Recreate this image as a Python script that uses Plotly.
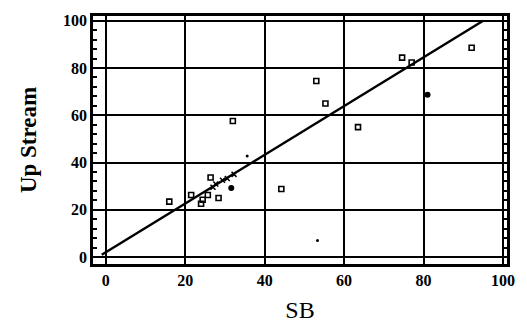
import plotly.graph_objects as go

# open square points (SB, Up Stream)
sq_x = [16, 21.5, 24.0, 24.4, 25.7, 26.4, 28.4, 32, 44.2, 53, 55.3, 63.5, 74.6, 77, 92.1]
sq_y = [23.5, 26.3, 22.6, 24.3, 26.3, 33.7, 25.0, 57.6, 28.8, 74.5, 65, 55, 84.4, 82.3, 88.6]
# filled points
fill_x = [31.6, 81]
fill_y = [29.2, 68.7]
# tiny dots
dot_x = [53.3, 35.6]
dot_y = [7, 42.8]
# small crosses along the line
cr_x = [27.0, 27.7, 29.4, 30.6, 32.3]
cr_y = [29.6, 30.9, 32.5, 33.3, 35.0]
# fitted line endpoints
line_x = [-1, 95]
line_y = [1, 100]

ticks = [0, 20, 40, 60, 80, 100]
tick_labels = ["<b>%d</b>" % t for t in ticks]
minor_ticks = [4, 8, 12, 16, 24, 28, 32, 36, 44, 48, 52, 56, 64, 68, 72, 76, 84, 88, 92, 96]

fig = go.Figure()
fig.add_trace(go.Scatter(x=line_x, y=line_y, mode="lines",
                         line=dict(color="black", width=2.5), showlegend=False))
fig.add_trace(go.Scatter(x=sq_x, y=sq_y, mode="markers",
                         marker=dict(symbol="square-open", size=5, color="black",
                                     line=dict(width=1.6, color="black")),
                         showlegend=False))
fig.add_trace(go.Scatter(x=fill_x, y=fill_y, mode="markers",
                         marker=dict(symbol="circle", size=6, color="black"),
                         showlegend=False))
fig.add_trace(go.Scatter(x=dot_x, y=dot_y, mode="markers",
                         marker=dict(symbol="circle", size=3, color="black"),
                         showlegend=False))
fig.add_trace(go.Scatter(x=cr_x, y=cr_y, mode="markers",
                         marker=dict(symbol="x-thin", size=5, color="black",
                                     line=dict(width=1.5, color="black")),
                         showlegend=False))

serif = "Liberation Serif"
fig.update_layout(
    width=527, height=336,
    margin=dict(l=93, r=12, t=12, b=72),
    paper_bgcolor="white", plot_bgcolor="white",
    font=dict(family=serif, color="black"),
    xaxis=dict(range=[-3.2, 101], tickvals=ticks, ticktext=tick_labels,
               showgrid=True, gridcolor="black", gridwidth=2, zeroline=False,
               showline=True, linecolor="black", linewidth=2.5, mirror=True,
               ticks="", tickfont=dict(family=serif, size=16, color="black"),
               title=dict(text="SB", font=dict(family=serif, size=24, color="black"),
                          standoff=14)),
    yaxis=dict(range=[-2.9, 102], tickvals=ticks, ticktext=tick_labels,
               showgrid=True, gridcolor="black", gridwidth=2, zeroline=False,
               showline=True, linecolor="black", linewidth=2.5, mirror="ticks",
               ticks="inside", ticklen=4, tickwidth=1.5, tickcolor="black",
               tickfont=dict(family=serif, size=16, color="black"),
               minor=dict(ticks="inside", ticklen=4, tickcolor="black",
                          tickvals=minor_ticks, showgrid=False, tickwidth=1.5),
               title=dict(text="<b>Up Stream</b>",
                          font=dict(family=serif, size=23, color="black"),
                          standoff=20)),
)

fig.write_html("out.html")
